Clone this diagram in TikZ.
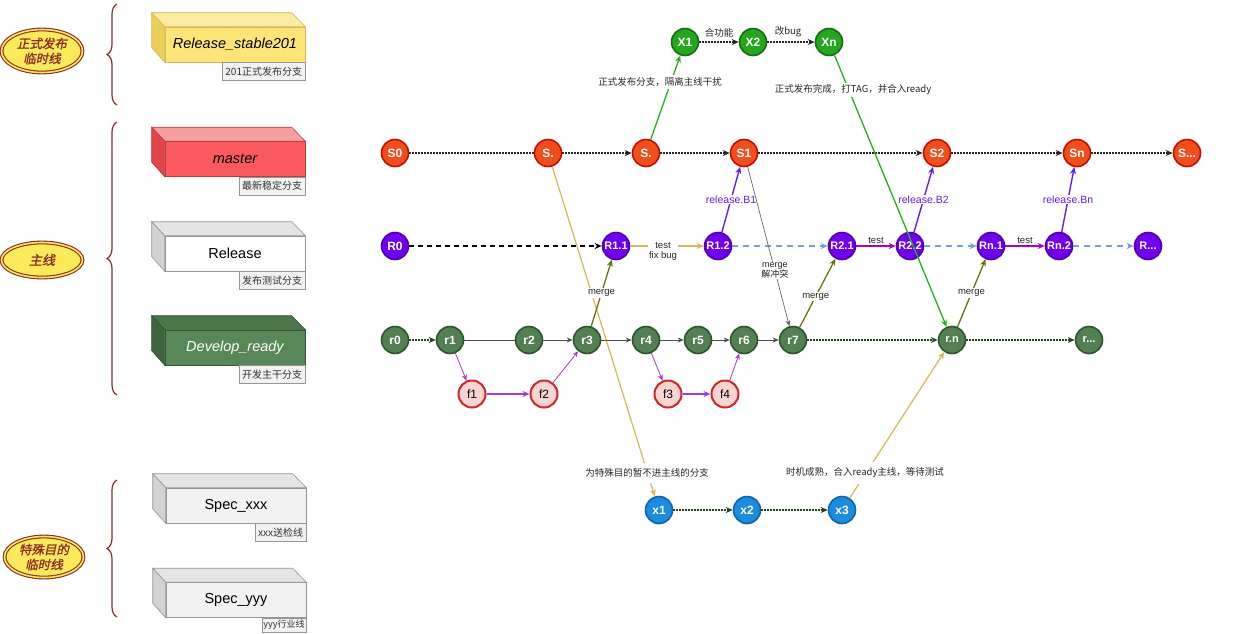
\documentclass[tikz,border=0pt]{standalone}
\usepackage{fontspec}
\setmainfont{Liberation Sans}
\newfontfamily\cjk{Noto Sans CJK SC}
\newfontfamily\cjkit[FakeSlant=0.2,FakeBold=1.5]{Noto Sans CJK SC}
\usetikzlibrary{arrows.meta,shapes.geometric,decorations.pathreplacing}
\definecolor{sF}{RGB}{240,78,28}
\definecolor{sD}{RGB}{200,12,0}
\definecolor{xF}{RGB}{38,165,30}
\definecolor{xD}{RGB}{20,110,20}
\definecolor{rF}{RGB}{112,0,235}
\definecolor{rD}{RGB}{80,0,180}
\definecolor{dF}{RGB}{82,128,82}
\definecolor{dD}{RGB}{45,85,45}
\definecolor{fF}{RGB}{250,212,210}
\definecolor{fD}{RGB}{205,40,40}
\definecolor{bF}{RGB}{28,140,222}
\definecolor{bD}{RGB}{15,100,170}
\definecolor{gold}{RGB}{214,184,86}
\definecolor{olive}{RGB}{110,112,20}
\definecolor{rel}{RGB}{100,30,240}
\definecolor{tst}{RGB}{170,0,200}
\definecolor{fed}{RGB}{160,60,220}
\definecolor{bdash}{RGB}{120,160,210}
\definecolor{gline}{RGB}{30,180,30}
\definecolor{brn}{RGB}{142,45,40}
\definecolor{ely}{RGB}{250,235,90}
\definecolor{ylwF}{RGB}{255,228,120}
\definecolor{ylwT}{RGB}{250,236,160}
\definecolor{ylwS}{RGB}{235,205,90}
\definecolor{ylwD}{RGB}{215,185,90}
\definecolor{redF}{RGB}{250,90,95}
\definecolor{redT}{RGB}{244,160,160}
\definecolor{redS}{RGB}{225,70,75}
\definecolor{redD}{RGB}{190,60,60}
\definecolor{grnF}{RGB}{88,136,88}
\definecolor{grnT}{RGB}{74,118,74}
\definecolor{grnS}{RGB}{62,100,62}
\definecolor{grnD}{RGB}{50,85,50}
\definecolor{gryF}{RGB}{242,242,242}
\definecolor{gryT}{RGB}{228,228,228}
\definecolor{gryS}{RGB}{210,210,210}
\definecolor{gryD}{RGB}{150,150,150}
\tikzset{
  cnode/.style={circle,minimum size=27pt,inner sep=0pt,line width=1.6pt,text=white,font=\bfseries\fontsize{12}{12}\selectfont},
  snode/.style={cnode,fill=sF,draw=sD},
  xnode/.style={cnode,fill=xF,draw=xD},
  rnode/.style={cnode,fill=rF,draw=rD},
  rsmall/.style={rnode,font=\bfseries\fontsize{11}{12}\selectfont},
  dnode/.style={cnode,fill=dF,draw=dD},
  fnode/.style={cnode,fill=fF,draw=fD,line width=2pt,text=black,font=\fontsize{12}{12}\selectfont},
  bnode/.style={cnode,fill=bF,draw=bD},
  tip/.style={-{Stealth[length=7pt,width=6pt]}},
  dotl/.style={draw=black!85,line width=1.3pt,dash pattern=on 1.3pt off 1.7pt},
  dotarr/.style={dotl,tip},
  greenarr/.style={draw=gline,line width=1.3pt,tip},
  goldarr/.style={draw=gold,line width=1.2pt,tip},
  blkdash/.style={draw=black,line width=1.3pt,dash pattern=on 5pt off 4pt,tip},
  bluedash/.style={draw=bdash,line width=1.3pt,dash pattern=on 6pt off 5pt,tip},
  relarr/.style={draw=rel,line width=1.4pt,tip},
  tstarr/.style={draw=tst,line width=1.3pt,tip},
  olarr/.style={draw=olive,line width=1.3pt,tip},
  devl/.style={draw=black!70,line width=0.9pt},
  devarr/.style={devl,-{Stealth[length=6pt,width=5pt]}},
  farr/.style={draw=fed,line width=0.8pt,-{Stealth[length=6pt,width=5pt]}},
  fmain/.style={draw=fed,line width=1.5pt,tip},
  graythin/.style={draw=black!60,line width=0.7pt,-{Stealth[length=6pt,width=5pt]}},
  elbl/.style={font=\fontsize{9.5}{11}\selectfont,text=black!85,inner sep=1pt,align=center},
  clbl/.style={font=\cjk\fontsize{9.5}{11}\selectfont,text=black!85,inner sep=2pt,fill=white,align=center},
  rlbl/.style={font=\fontsize{10.5}{12}\selectfont,text=rel,fill=white,inner sep=1pt},
  front/.style={rectangle,minimum width=140pt,minimum height=35pt,line width=0.6pt,font=\fontsize{14.5}{16}\selectfont},
  lbl/.style={rectangle,draw=gryD,fill=gryF,line width=0.5pt,minimum height=18pt,inner sep=3pt,font=\cjk\fontsize{10}{11}\selectfont,text=black!80},
  ell/.style={ellipse,draw=brn,line width=1.1pt,double=ely,double distance=1.6pt,fill=ely,inner sep=0pt,align=center,text=brn,font=\cjkit\fontsize{12.5}{15}\selectfont},
  brc/.style={draw=brn,line width=1.2pt,decorate,decoration={brace,amplitude=10pt}}
}
\newcommand{\cuboid}[4]{% node, side, top, draw
  \filldraw[fill=#3,draw=#4,line width=0.6pt] (#1.north west) -- ++(-13,-14) -- ++(140,0) -- (#1.north east) -- cycle;
  \filldraw[fill=#2,draw=#4,line width=0.6pt] (#1.north west) -- ++(-13,-14) -- ++(0,35) -- (#1.south west) -- cycle;
}
\begin{document}
\begin{tikzpicture}[x=1pt,y=-1pt]
\path[use as bounding box] (0,0) rectangle (1255,633);
\clip (0,0) rectangle (1255,633);
\fill[white] (0,0) rectangle (1255,633);

% ---------------- legend ----------------
\node[ell,minimum width=81pt,minimum height=43pt] (e1) at (42,51) {正式发布\\临时线};
\node[ell,minimum width=81pt,minimum height=35pt,font=\cjkit\fontsize{13}{15}\selectfont] (e2) at (42,260) {主线};
\node[ell,minimum width=79pt,minimum height=41pt] (e3) at (44,557) {特殊目的\\临时线};
\draw[brc] (117,105) -- (117,4);
\draw[brc] (117,395) -- (117,122);
\draw[brc] (117,617) -- (117,480);

\node[front,fill=ylwF,draw=ylwD] (bRS) at (235,44.5) {\itshape Release\_stable201};
\cuboid{bRS}{ylwS}{ylwT}{ylwD}
\node[lbl,anchor=north east] (lRS) at (bRS.south east) {201正式发布分支};

\node[front,fill=redF,draw=redD] (bM) at (235,159) {\itshape master};
\cuboid{bM}{redS}{redT}{redD}
\node[lbl,anchor=north east] (lM) at (bM.south east) {最新稳定分支};

\node[front,fill=white,draw=gryD] (bR) at (235,253.5) {Release};
\cuboid{bR}{gryS}{gryT}{gryD}
\node[lbl,anchor=north east] (lR) at (bR.south east) {发布测试分支};

\node[front,fill=grnF,draw=grnD,text=white] (bD) at (235,347.5) {\itshape Develop\_ready};
\cuboid{bD}{grnS}{grnT}{grnD}
\node[lbl,anchor=north east] (lD) at (bD.south east) {开发主干分支};

\node[front,fill=gryF,draw=gryD] (bX) at (236,505.5) {Spec\_xxx};
\cuboid{bX}{gryS}{gryT}{gryD}
\node[lbl,anchor=north east] (lX) at (bX.south east) {xxx送检线};

\node[front,fill=gryF,draw=gryD] (bY) at (236,600) {Spec\_yyy};
\cuboid{bY}{gryS}{gryT}{gryD}
\node[lbl,anchor=north east,minimum height=14pt,inner sep=1.5pt,font=\cjk\fontsize{9}{10}\selectfont] (lY) at (bY.south east) {yyy行业线};

% ---------------- nodes ----------------
\node[snode] (S0) at (395,153) {S0};
\node[snode] (Sa) at (548,153) {S.};
\node[snode] (Sb) at (646,153) {S.};
\node[snode] (S1) at (744,153) {S1};
\node[snode] (S2) at (937,153) {S2};
\node[snode] (Sn) at (1077,153) {Sn};
\node[snode] (Sx) at (1187,153) {S...};

\node[xnode] (X1) at (685,42) {X1};
\node[xnode] (X2) at (753,42) {X2};
\node[xnode] (Xn) at (829,42) {Xn};

\node[rnode] (R0) at (395,246) {R0};
\node[rsmall] (R11) at (616,246) {R1.1};
\node[rsmall] (R12) at (718,246) {R1.2};
\node[rsmall] (R21) at (842,246) {R2.1};
\node[rsmall] (R22) at (910,246) {R2.2};
\node[rsmall] (Rn1) at (991,246) {Rn.1};
\node[rsmall] (Rn2) at (1059,246) {Rn.2};
\node[rsmall] (Rx) at (1148,246) {R...};

\node[dnode] (r0) at (395,340) {r0};
\node[dnode] (r1) at (450,340) {r1};
\node[dnode] (r2) at (529,340) {r2};
\node[dnode] (r3) at (587,340) {r3};
\node[dnode] (r4) at (646,340) {r4};
\node[dnode] (r5) at (698,340) {r5};
\node[dnode] (r6) at (744,340) {r6};
\node[dnode] (r7) at (793,340) {r7};
\node[dnode,font=\bfseries\fontsize{11}{12}\selectfont] (rn) at (952,340) {r.n};
\node[dnode,font=\bfseries\fontsize{11}{12}\selectfont] (rx) at (1089,340) {r...};

\node[fnode] (f1) at (472,394) {f1};
\node[fnode] (f2) at (544,394) {f2};
\node[fnode] (f3) at (668,394) {f3};
\node[fnode] (f4) at (725,394) {f4};

\node[bnode] (x1) at (659,510) {x1};
\node[bnode] (x2) at (747,510) {x2};
\node[bnode] (x3) at (842,510) {x3};

% ---------------- edges ----------------
\draw[dotl] (S0) -- (Sa);
\draw[dotarr] (Sa) -- (Sb);
\draw[dotarr] (Sb) -- (S1);
\draw[dotarr] (S1) -- (S2);
\draw[dotarr] (S2) -- (Sn);
\draw[dotarr] (Sn) -- (Sx);

\draw[greenarr] (Sb) -- (X1);
\draw[dotarr] (X1) -- node[above=3pt,elbl,font=\cjk\fontsize{9.5}{11}\selectfont] (lhgn) {合功能} (X2);
\draw[dotarr] (X2) -- node[above=3pt,elbl,font=\cjk\fontsize{9.5}{11}\selectfont,xshift=-3pt] (lgb) {改bug} (Xn);
\draw[greenarr] (Xn) -- (rn);
\node[clbl] (lzs) at (660,82) {正式发布分支，隔离主线干扰};
\node[clbl] (lwc) at (853,90) {正式发布完成，打TAG，并合入ready};

\draw[goldarr] (Sa) -- (x1);
\draw[dotarr,draw=dD!80!black] (x1) -- (x2);
\draw[dotarr,draw=dD!80!black] (x2) -- (x3);
\draw[goldarr] (x3) -- (rn);
\node[clbl,inner sep=6pt] (lts) at (647,473) {为特殊目的暂不进主线的分支};
\node[clbl,inner sep=6pt] (lsj) at (865,473) {时机成熟，合入ready主线，等待测试};

\draw[blkdash] (R0) -- (R11);
\draw[goldarr] (R11) -- (R12);
\node[elbl,fill=white] (ltf) at (663,251) {test\\[-1pt]fix bug};
\draw[relarr] (R12) -- node[rlbl,pos=0.5] (lB1) {release.B1} (S1);
\draw[bluedash] (R12) -- (R21);
\draw[graythin] (S1) -- node[pos=0.65,elbl,fill=white,font=\fontsize{9}{10}\selectfont] (lmj) {merge\\{\cjk 解冲突}} (r7);
\draw[tstarr] (R21) -- node[above=1pt,elbl] (lt2) {test} (R22);
\draw[relarr] (R22) -- node[rlbl,pos=0.5] (lB2) {release.B2} (S2);
\draw[bluedash] (R22) -- (Rn1);
\draw[tstarr] (Rn1) -- node[above=1pt,elbl] (lt3) {test} (Rn2);
\draw[relarr] (Rn2) -- node[rlbl,pos=0.5] (lBn) {release.Bn} (Sn);
\draw[bluedash] (Rn2) -- (Rx);

\draw[dotarr,draw=dD!80!black] (r0) -- (r1);
\draw[devl] (r1) -- (r2);
\draw[devarr] (r2) -- (r3);
\draw[devarr] (r3) -- (r4);
\draw[devarr] (r4) -- (r5);
\draw[devarr] (r5) -- (r6);
\draw[devarr] (r6) -- (r7);
\draw[dotarr,draw=dD!80!black] (r7) -- (rn);
\draw[dotarr,draw=dD!80!black] (rn) -- (rx);

\draw[farr] (r1) -- (f1);
\draw[fmain] (f1) -- (f2);
\draw[farr] (f2) -- (r3);
\draw[farr] (r4) -- (f3);
\draw[fmain] (f3) -- (f4);
\draw[farr] (f4) -- (r6);

\draw[olarr] (r3) -- node[pos=0.5,elbl,fill=white] (lm1) {merge} (R11);
\draw[olarr] (r7) -- node[pos=0.45,elbl,fill=white] (lm2) {merge} (R21);
\draw[olarr] (rn) -- node[pos=0.5,elbl,fill=white] (lm3) {merge} (Rn1);
\end{tikzpicture}
\end{document}
